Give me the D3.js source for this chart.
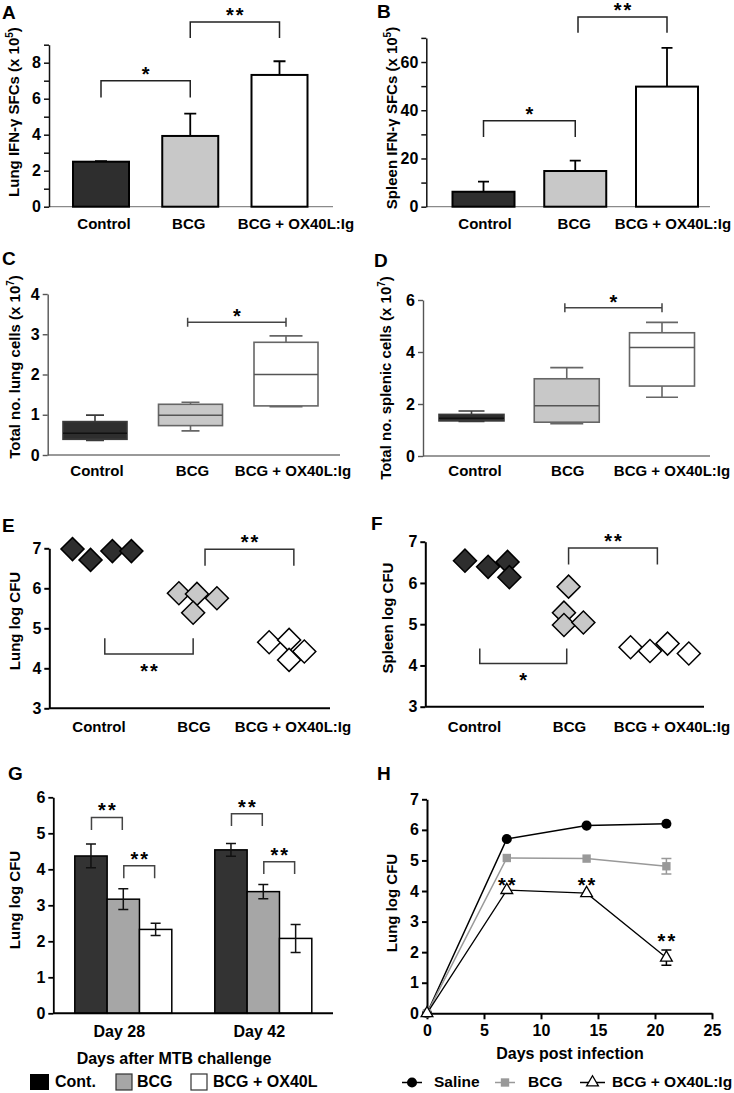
<!DOCTYPE html>
<html><head><meta charset="utf-8">
<script src="https://cdn.jsdelivr.net/npm/d3@7"></script>
<style>
body{margin:0;background:#fff}
svg{display:block}
text{font-family:"Liberation Sans",Arial,Helvetica,sans-serif;font-weight:bold;fill:#000}
</style></head>
<body><svg id="fig" width="734" height="1093"></svg>
<script>
// ================= DATA =================
const groups = ["Control", "BCG", "BCG + OX40L:Ig"];

// A: lung IFN-γ SFCs (x10^5), mean and upper SEM
const lungIfnMean = [2.5, 3.93, 7.32];
const lungIfnErr  = [0.03, 1.24, 0.76];
const sigA = [{from:0, to:1, line:7.0, leg:6.06, label:"*"}, {from:1, to:2, line:10.26, leg:9.37, label:"**"}];

// B: spleen IFN-γ SFCs (x10^5)
const spleenIfnMean = [6.2, 14.8, 49.8];
const spleenIfnErr  = [4.2, 4.3, 16.1];
const sigB = [{from:0, to:1, line:35.6, leg:28.9, label:"*"}, {from:1.03, to:2, line:78.7, leg:72.1, label:"**"}];

// C: total lung cells (x10^7) box stats [min, q1, median, q3, max]
const lungCellsCtrl = [0.36, 0.39, 0.54, 0.83, 0.99];
const lungCellsBcg  = [0.60, 0.73, 0.99, 1.26, 1.31];
const lungCellsOx   = [1.20, 1.22, 2.00, 2.80, 2.96];
const sigC = [{from:0.97, to:2, line:3.3, label:"*"}];

// D: total splenic cells (x10^7)
const splenicCellsCtrl = [1.33, 1.35, 1.45, 1.60, 1.73];
const splenicCellsBcg  = [1.24, 1.30, 1.93, 2.97, 3.40];
const splenicCellsOx   = [2.26, 2.69, 4.17, 4.74, 5.14];
const sigD = [{from:0.98, to:2, line:5.7, label:"*"}];

// E: lung log CFU per mouse, with horizontal jitter (fraction of category step)
const lungCfuCtrl = [6.98, 6.71, 6.93, 6.93];
const lungCfuBcg  = [5.875, 5.86, 5.75, 5.39];
const lungCfuOx   = [4.65, 4.71, 4.42, 4.21];
const lungCfuJitter = [[-0.30, -0.11, 0.12, 0.32], [-0.18, 0.01, 0.22, -0.03], [-0.23, -0.02, 0.14, -0.02]];
const sigE = [{from:1.095, to:2.03, line:6.975, leg:6.565, label:"**"}, {from:0.04, to:0.97, line:4.36, leg:4.75, label:"**"}];

// F: spleen log CFU per mouse
const spleenCfuCtrl = [6.54, 6.39, 6.51, 6.14];
const spleenCfuBcg  = [5.91, 5.28, 4.98, 5.04];
const spleenCfuOx   = [4.44, 4.35, 4.53, 4.29];
const spleenCfuJitter = [[-0.13, 0.12, 0.33, 0.35], [-0.01, -0.06, -0.06, 0.15], [-0.34, -0.13, 0.06, 0.29]];
const sigF = [{from:0.99, to:1.95, line:6.85, leg:6.45, label:"**"}, {from:0.03, to:0.97, line:4.05, leg:4.41, label:"*"}];

// G: lung log CFU after MTB challenge
const challengeDays = ["Day 28", "Day 42"];
const challengeSeries = ["Cont.", "BCG", "BCG + OX40L"];
const challengeCont = [4.37, 4.54];
const challengeContErr = [0.33, 0.18];
const challengeBcg = [3.17, 3.38];
const challengeBcgErr = [0.29, 0.20];
const challengeOx = [2.33, 2.08];
const challengeOxErr = [0.17, 0.39];
const sigG = [
  {day:0, from:0, to:1, line:5.44, leg:5.09, label:"**"},
  {day:0, from:1, to:2, line:4.10, leg:3.75, label:"**"},
  {day:1, from:0, to:1, line:5.54, leg:5.20, label:"**"},
  {day:1, from:1, to:2, line:4.21, leg:3.87, label:"**"}
];

// H: lung log CFU time course
const infDays = [0, 7, 14, 21];
const salineCfu = [0, 5.70, 6.14, 6.20];
const bcgCfu = [0, 5.08, 5.06, 4.81];
const bcgCfuErr = [0, 0.04, 0.04, 0.25];
const oxCfu = [0, 4.03, 3.93, 1.82];
const oxCfuErr = [0, 0.04, 0.04, 0.25];
const hStarDays = [7, 14, 21];
const hStarValues = [4.30, 4.30, 2.45];
const hSeries = ["Saline", "BCG", "BCG + OX40L:Ig"];

// ================= DRAWING =================
const svg = d3.select("#fig");
const FONT = '"Liberation Sans", Arial, Helvetica, sans-serif';
const groupFill = ["#2e2e2e", "#c8c8c8", "#ffffff"];
const TICK_FS = 16, STAR_FS = 20;

function letter(t, x, y) {
  svg.append("text").attr("x", x).attr("y", y).attr("font-size", 19).text(t);
}
function yTitle(parts, cx, cy) {
  const t = svg.append("text").attr("transform", `translate(${cx},${cy}) rotate(-90)`)
    .attr("text-anchor", "middle").attr("dy", "0.35em").attr("font-size", 15);
  t.append("tspan").text(parts[0]);
  if (parts.length > 1) {
    t.append("tspan").attr("font-size", 10).attr("dy", -6).text(parts[1]);
    t.append("tspan").attr("dy", 6).text(parts[2]);
  }
}
function yAxis(scale, x, vals, labelled, color, w) {
  const ax = d3.axisLeft(scale).tickValues(vals).tickSize(5).tickSizeOuter(0).tickPadding(3)
    .tickFormat(d => labelled(d) ? d : "");
  const g = svg.append("g").attr("transform", `translate(${x},0)`).call(ax);
  g.attr("font-size", TICK_FS).attr("font-family", FONT).attr("font-weight", "bold");
  g.select(".domain").attr("stroke", color).attr("stroke-width", w);
  g.selectAll(".tick line").attr("stroke", color).attr("stroke-width", w);
  g.selectAll(".tick text").attr("fill", "#000");
  return g;
}
function hline(x1, x2, y, color, w) {
  svg.append("line").attr("x1", x1).attr("x2", x2).attr("y1", y).attr("y2", y)
    .attr("stroke", color).attr("stroke-width", w);
}
function star(x, y, label) {
  svg.append("text").attr("x", x + 1).attr("y", y).attr("text-anchor", "middle")
    .attr("font-size", STAR_FS).attr("letter-spacing", 2).text(label);
}
function bracket(x1, x2, yLine, yLeg, label, color) {
  svg.append("path").attr("d", `M${x1},${yLeg}V${yLine}H${x2}V${yLeg}`)
    .attr("fill", "none").attr("stroke", color).attr("stroke-width", 1.5);
  const below = yLeg < yLine;
  star((x1 + x2) / 2, below ? yLine + 24 : yLine, label);
}
function catLabels(x, dx, y) {
  groups.forEach((g, i) => {
    svg.append("text").attr("x", x(g) + dx[i]).attr("y", y).attr("text-anchor", "middle")
      .attr("font-size", 15).text(g);
  });
}
function catPos(x, f) {
  const d = x.domain(); const c0 = x(d[0]); const step = (x(d[d.length - 1]) - c0) / (d.length - 1);
  return c0 + f * step;
}

// ---------- Bar panels A, B ----------
function barPanel(cfg, means, errs, sigs) {
  const y = d3.scaleLinear().domain(cfg.yDomain).range(cfg.yRange);
  const x = d3.scalePoint().domain(groups).range(cfg.cRange);
  hline(cfg.ax, cfg.axEnd, y(0), "#8a8a8a", 1.2);
  svg.selectAll(null).data(means).join("rect")
    .attr("x", (d, i) => x(groups[i]) - cfg.barW / 2).attr("width", cfg.barW)
    .attr("y", d => y(d)).attr("height", d => y(0) - y(d))
    .attr("fill", (d, i) => groupFill[i]).attr("stroke", "#000").attr("stroke-width", 2);
  means.forEach((m, i) => {
    const cx = x(groups[i]);
    svg.append("path").attr("d", `M${cx},${y(m)}V${y(m + errs[i])}M${cx - cfg.cap / 2},${y(m + errs[i])}H${cx + cfg.cap / 2}`)
      .attr("stroke", "#000").attr("stroke-width", 1.8).attr("fill", "none");
  });
  yAxis(y, cfg.ax, cfg.ticks, cfg.labelled, "#111", 1.5);
  sigs.forEach(s => bracket(catPos(x, s.from), catPos(x, s.to), y(s.line), y(s.leg), s.label, "#222"));
  catLabels(x, cfg.lblDx, cfg.lblY);
  yTitle(cfg.title, cfg.tx, cfg.ty);
  letter(cfg.letter, cfg.lx, cfg.ly);
}

barPanel({ax:49, axEnd:333, cRange:[101, 279.5], yDomain:[0, 9], yRange:[206.7, 44.7],
  ticks:d3.range(0, 10), labelled:d => d % 2 === 0, barW:56, cap:12, lblY:229, lblDx:[3, -1.5, 16.5],
  title:["Lung IFN-γ SFCs (x 10", "5", ")"], tx:14, ty:112, letter:"A", lx:2, ly:19},
  lungIfnMean, lungIfnErr, sigA);

barPanel({ax:426.3, axEnd:710, cRange:[483.5, 667], yDomain:[0, 70], yRange:[206.7, 37.9],
  ticks:d3.range(0, 71, 10), labelled:d => d % 20 === 0, barW:62, cap:11, lblY:229, lblDx:[1.5, -1, 6],
  title:["Spleen IFN-γ SFCs (x 10", "5", ")"], tx:392, ty:118, letter:"B", lx:377, ly:18},
  spleenIfnMean, spleenIfnErr, sigB);

// ---------- Box panels C, D ----------
function boxPanel(cfg, stats, sigs) {
  const y = d3.scaleLinear().domain(cfg.yDomain).range(cfg.yRange);
  const x = d3.scalePoint().domain(groups).range(cfg.cRange);
  hline(cfg.ax, cfg.axEnd, y(0), "#777", 1.3);
  const stroke = ["#3a3a3a", "#666", "#666"];
  const medCol = ["#111", "#555", "#555"];
  stats.forEach((s, i) => {
    const cx = x(groups[i]); const hw = cfg.boxW / 2; const cw = cfg.caps[i] / 2;
    svg.append("path").attr("d",
      `M${cx},${y(s[4])}V${y(s[3])}M${cx},${y(s[1])}V${y(s[0])}` +
      `M${cx - cw},${y(s[4])}H${cx + cw}M${cx - cw},${y(s[0])}H${cx + cw}`)
      .attr("stroke", stroke[i]).attr("stroke-width", 1.6).attr("fill", "none");
    svg.append("rect").attr("x", cx - hw).attr("width", cfg.boxW)
      .attr("y", y(s[3])).attr("height", y(s[1]) - y(s[3]))
      .attr("fill", groupFill[i]).attr("stroke", stroke[i]).attr("stroke-width", 1.6);
    hline(cx - hw, cx + hw, y(s[2]), medCol[i], 1.5);
  });
  yAxis(y, cfg.ax, cfg.ticks, () => true, "#555", 1.4);
  sigs.forEach(s => {
    const x1 = catPos(x, s.from), x2 = catPos(x, s.to), yy = y(s.line);
    svg.append("path").attr("d", `M${x1},${yy - 4.5}V${yy + 4.5}M${x1},${yy}H${x2}M${x2},${yy - 4.5}V${yy + 4.5}`)
      .attr("stroke", "#444").attr("stroke-width", 1.5).attr("fill", "none");
    star((x1 + x2) / 2, yy + 1, s.label);
  });
  catLabels(x, cfg.lblDx, cfg.lblY);
  yTitle(cfg.title, cfg.tx, cfg.ty);
  letter(cfg.letter, cfg.lx, cfg.ly);
}

boxPanel({ax:47.7, axEnd:340, cRange:[95, 286], yDomain:[0, 4], yRange:[455, 294], ticks:[0, 1, 2, 3, 4],
  boxW:64, caps:[18, 18, 33], lblY:476, lblDx:[2, 2, 7],
  title:["Total no. lung cells (x 10", "7", ")"], tx:15, ty:367, letter:"C", lx:2, ly:265},
  [lungCellsCtrl, lungCellsBcg, lungCellsOx], sigC);

boxPanel({ax:423, axEnd:710, cRange:[471.5, 662], yDomain:[0, 6], yRange:[456, 300], ticks:[0, 2, 4, 6],
  boxW:65, caps:[26, 33, 32], lblY:476, lblDx:[3.5, 1, 10],
  title:["Total no. splenic cells (x 10", "7", ")"], tx:386, ty:378, letter:"D", lx:374, ly:267},
  [splenicCellsCtrl, splenicCellsBcg, splenicCellsOx], sigD);

// ---------- Scatter panels E, F ----------
function dotPanel(cfg, values, jitter, sigs) {
  const y = d3.scaleLinear().domain([3, 7]).range(cfg.yRange);
  const x = d3.scalePoint().domain(groups).range(cfg.cRange);
  const step = x.step();
  const diamond = d3.symbol().type(d3.symbolSquare).size(265);
  hline(cfg.ax, cfg.axEnd, y(3), "#000", 2);
  yAxis(y, cfg.ax, [3, 4, 5, 6, 7], () => true, "#000", 2);
  sigs.forEach(s => bracket(catPos(x, s.from), catPos(x, s.to), y(s.line), y(s.leg), s.label, "#333"));
  values.forEach((vals, gi) => {
    vals.forEach((v, j) => {
      svg.append("path").attr("d", diamond())
        .attr("transform", `translate(${x(groups[gi]) + jitter[gi][j] * step},${y(v)}) rotate(45)`)
        .attr("fill", groupFill[gi]).attr("stroke", "#000").attr("stroke-width", 1.5);
    });
  });
  catLabels(x, cfg.lblDx, cfg.lblY);
  yTitle(cfg.title, cfg.tx, cfg.ty);
  letter(cfg.letter, cfg.lx, cfg.ly);
}

dotPanel({ax:49.3, axEnd:330, cRange:[101, 291], yRange:[708.3, 548.3], lblY:731.5, lblDx:[-2, -2, 2],
  title:["Lung log CFU"], tx:14.5, ty:621, letter:"E", lx:2, ly:532},
  [lungCfuCtrl, lungCfuBcg, lungCfuOx], lungCfuJitter, sigE);

dotPanel({ax:425.3, axEnd:704, cRange:[477, 662], yRange:[706.7, 541.7], lblY:731.5, lblDx:[-2.5, 0, 10],
  title:["Spleen log CFU"], tx:388, ty:618, letter:"F", lx:371, ly:530},
  [spleenCfuCtrl, spleenCfuBcg, spleenCfuOx], spleenCfuJitter, sigF);

// ---------- Panel G ----------
(function () {
  const y = d3.scaleLinear().domain([0, 6]).range([1013.3, 797.3]);
  const x0 = d3.scaleBand().domain(challengeDays).range([53.3, 333.3]);
  const x1 = d3.scaleBand().domain(challengeSeries).range([-48.5, 48.5]);
  const means = [challengeCont, challengeBcg, challengeOx];
  const errs = [challengeContErr, challengeBcgErr, challengeOxErr];
  const fills = ["#333333", "#a6a6a6", "#ffffff"];
  const cx = (d, s) => x0(challengeDays[d]) + x0.bandwidth() / 2 + x1(challengeSeries[s]) + x1.bandwidth() / 2;
  means.forEach((arr, s) => arr.forEach((m, d) => {
    svg.append("rect").attr("x", cx(d, s) - x1.bandwidth() / 2).attr("width", x1.bandwidth())
      .attr("y", y(m)).attr("height", y(0) - y(m))
      .attr("fill", fills[s]).attr("stroke", "#000").attr("stroke-width", 1.5);
  }));
  means.forEach((arr, s) => arr.forEach((m, d) => {
    const c = cx(d, s), e = errs[s][d];
    svg.append("path").attr("d",
      `M${c},${y(m - e)}V${y(m + e)}M${c - 5},${y(m + e)}H${c + 5}M${c - 5},${y(m - e)}H${c + 5}`)
      .attr("stroke", "#111").attr("stroke-width", 1.5).attr("fill", "none");
  }));
  hline(53.3, 333, y(0), "#000", 2);
  yAxis(y, 53.3, [0, 1, 2, 3, 4, 5, 6], () => true, "#000", 1.8);
  sigG.forEach(s => bracket(cx(s.day, s.from) + 0.5, cx(s.day, s.to) - 1, y(s.line), y(s.leg), s.label, "#444"));
  challengeDays.forEach(d => {
    svg.append("text").attr("x", x0(d) + x0.bandwidth() / 2 - 4).attr("y", 1036.5)
      .attr("text-anchor", "middle").attr("font-size", 16).text(d);
  });
  svg.append("text").attr("x", 174).attr("y", 1063.5).attr("text-anchor", "middle")
    .attr("font-size", 16).text("Days after MTB challenge");
  const lgX = [30, 116, 191], lgT = [55, 137, 213];
  challengeSeries.forEach((s, i) => {
    svg.append("rect").attr("x", lgX[i]).attr("y", 1074).attr("width", i === 0 ? 19 : 16).attr("height", 16)
      .attr("fill", i === 0 ? "#000" : fills[i]).attr("stroke", i === 0 ? "none" : "#333").attr("stroke-width", 1.2);
    svg.append("text").attr("x", lgT[i]).attr("y", 1087).attr("font-size", 16).text(s);
  });
  yTitle(["Lung log CFU"], 15, 900);
  letter("G", 8, 780);
})();

// ---------- Panel H ----------
(function () {
  const x = d3.scaleLinear().domain([0, 25]).range([427, 712]);
  const y = d3.scaleLinear().domain([0, 7]).range([1013.3, 799.3]);
  const xa = d3.axisBottom(x).tickValues([0, 5, 10, 15, 20, 25]).tickSize(6).tickSizeOuter(0).tickPadding(5);
  const gx = svg.append("g").attr("transform", `translate(0,${y(0)})`).call(xa);
  gx.attr("font-size", TICK_FS).attr("font-family", FONT).attr("font-weight", "bold");
  gx.select(".domain").attr("stroke", "#000").attr("stroke-width", 2);
  gx.selectAll(".tick line").attr("stroke", "#000").attr("stroke-width", 2);
  gx.selectAll(".tick text").attr("fill", "#000");
  yAxis(y, 427, [0, 1, 2, 3, 4, 5, 6, 7], () => true, "#000", 2);

  const line = d3.line().x((d, i) => x(infDays[i])).y(d => y(d));
  svg.append("path").attr("d", line(salineCfu)).attr("fill", "none").attr("stroke", "#000").attr("stroke-width", 1.5);
  svg.append("path").attr("d", line(bcgCfu)).attr("fill", "none").attr("stroke", "#999").attr("stroke-width", 1.5);
  svg.append("path").attr("d", line(oxCfu)).attr("fill", "none").attr("stroke", "#000").attr("stroke-width", 1.3);

  function errs(vals, es, color) {
    vals.forEach((v, i) => {
      if (es[i] <= 0.05) return;
      const c = x(infDays[i]);
      svg.append("path").attr("d",
        `M${c},${y(v - es[i])}V${y(v + es[i])}M${c - 5},${y(v + es[i])}H${c + 5}M${c - 5},${y(v - es[i])}H${c + 5}`)
        .attr("stroke", color).attr("stroke-width", 1.5).attr("fill", "none");
    });
  }
  errs(bcgCfu, bcgCfuErr, "#999");
  errs(oxCfu, oxCfuErr, "#000");

  const circ = d3.symbol().type(d3.symbolCircle).size(80);
  const sq = d3.symbol().type(d3.symbolSquare).size(70);
  const tri = d3.symbol().type(d3.symbolTriangle).size(60);
  salineCfu.forEach((v, i) => svg.append("path").attr("d", circ()).attr("transform", `translate(${x(infDays[i])},${y(v)})`).attr("fill", "#000"));
  bcgCfu.forEach((v, i) => svg.append("path").attr("d", sq()).attr("transform", `translate(${x(infDays[i])},${y(v)})`).attr("fill", "#999"));
  oxCfu.forEach((v, i) => svg.append("path").attr("d", tri()).attr("transform", `translate(${x(infDays[i])},${y(v)})`)
    .attr("fill", "#fff").attr("stroke", "#000").attr("stroke-width", 1.3));

  hStarDays.forEach((d, i) => star(x(d), y(hStarValues[i]) + 10, "**"));

  svg.append("text").attr("x", 570).attr("y", 1059).attr("text-anchor", "middle")
    .attr("font-size", 16).text("Days post infection");

  // legend
  const ly = 1082.5;
  const lg = [{x1:402, x2:422, c:"#000", sym:circ, fill:"#000", stroke:"none", tx:434},
              {x1:495, x2:515, c:"#999", sym:sq, fill:"#999", stroke:"none", tx:528},
              {x1:580, x2:605, c:"#000", sym:tri, fill:"#fff", stroke:"#000", tx:612}];
  lg.forEach((l, i) => {
    hline(l.x1, l.x2, ly, l.c, 1.5);
    svg.append("path").attr("d", l.sym()).attr("transform", `translate(${(l.x1 + l.x2) / 2},${ly})`)
      .attr("fill", l.fill).attr("stroke", l.stroke).attr("stroke-width", 1.3);
    svg.append("text").attr("x", l.tx).attr("y", 1087).attr("font-size", 15.5).text(hSeries[i]);
  });

  yTitle(["Lung log CFU"], 392, 903);
  letter("H", 377, 780);
})();
</script>
</body></html>
